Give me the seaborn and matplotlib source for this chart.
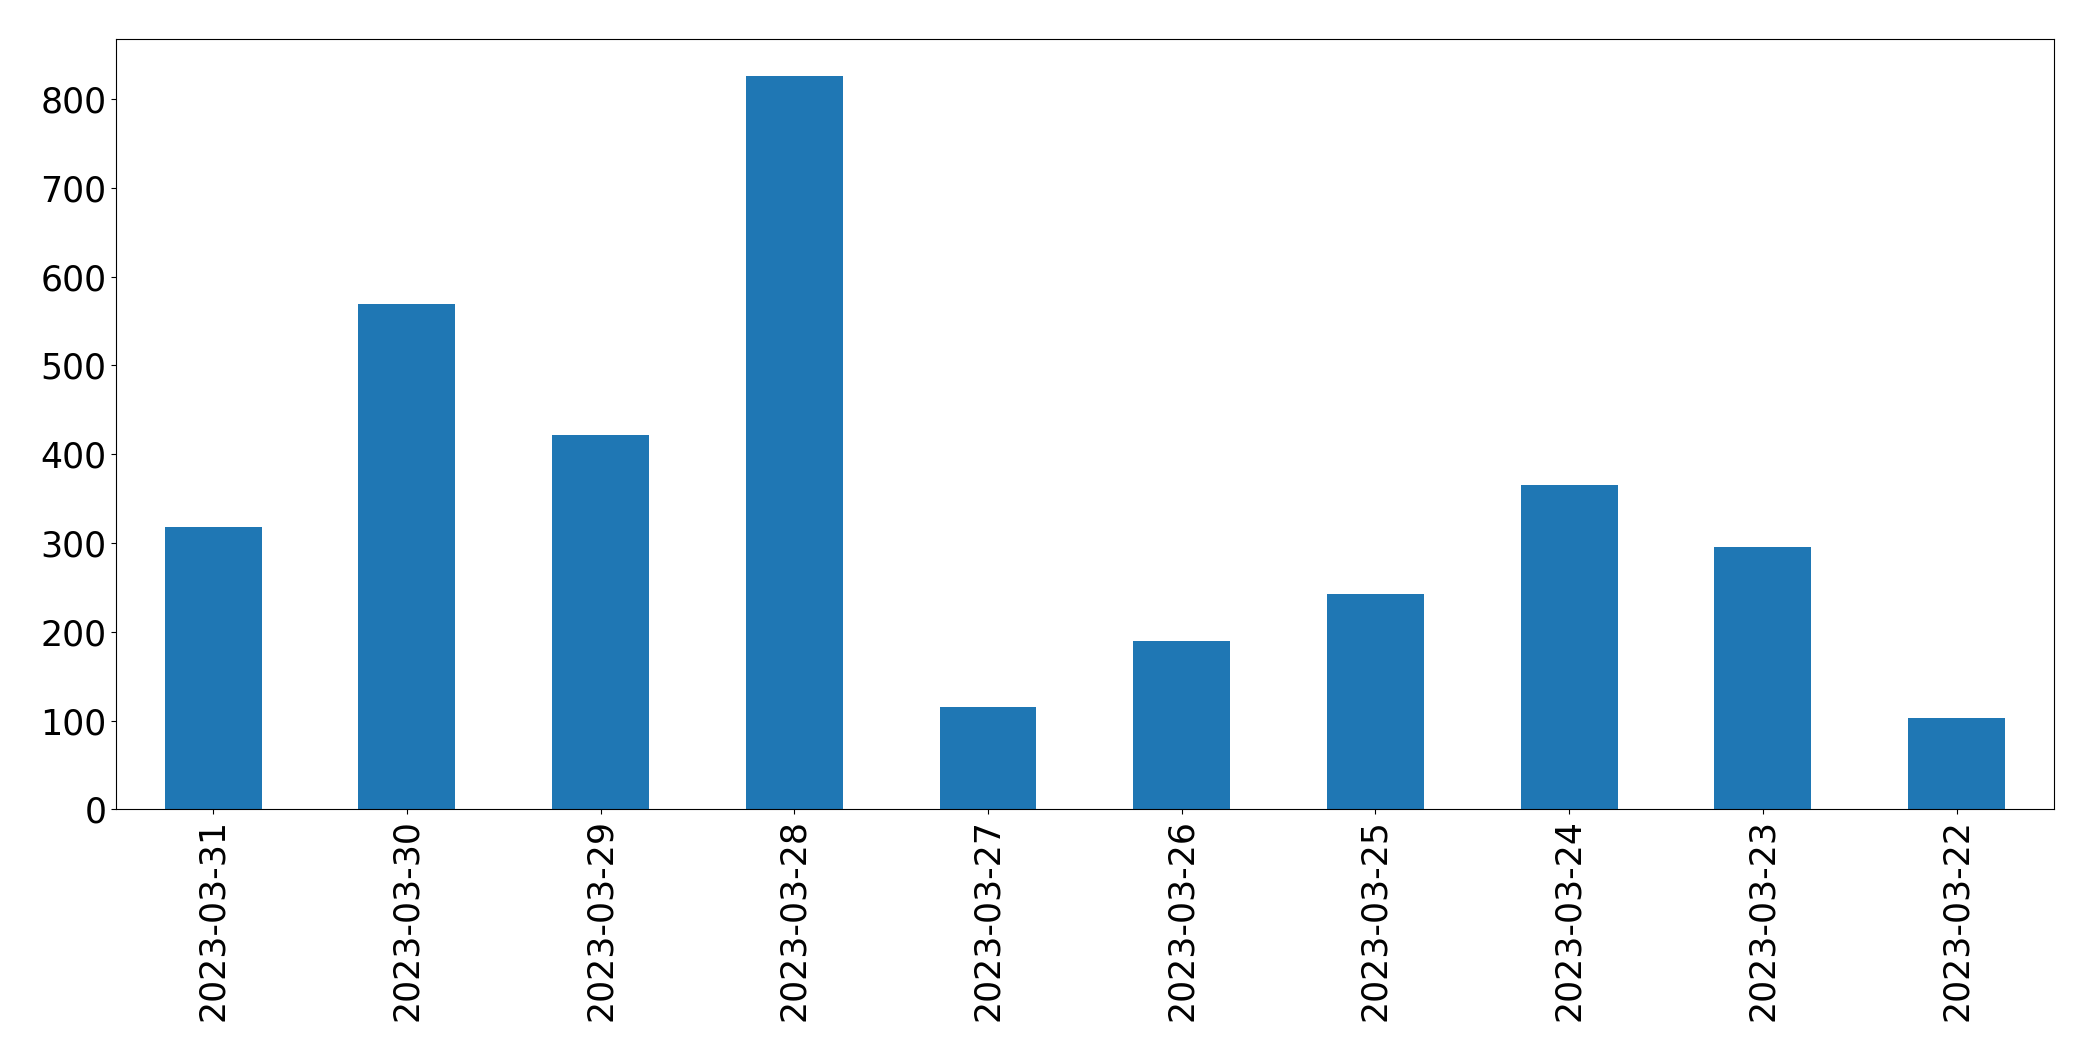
import matplotlib
matplotlib.use("Agg")
import matplotlib.pyplot as plt
import seaborn as sns
import pandas as pd

# datas (ordem decrescente, como no original)
datas = ["2023-03-31", "2023-03-30", "2023-03-29", "2023-03-28", "2023-03-27",
         "2023-03-26", "2023-03-25", "2023-03-24", "2023-03-23", "2023-03-22"]
# contagens
contagens = [318, 569, 422, 826, 115, 190, 242, 365, 296, 103]

df = pd.DataFrame({"data": datas, "contagem": contagens})

fig = plt.figure(figsize=(20.93, 10.61), dpi=100)
ax = fig.add_axes([116.3 / 2093, 1 - 809.3 / 1061,
                   (2053.5 - 116.3) / 2093, (809.3 - 39.3) / 1061])

sns.barplot(data=df, x="data", y="contagem", order=datas,
            color="#1f77b4", saturation=1, width=0.5, ax=ax)

ax.set_xlim(-0.5, len(datas) - 0.5)
ax.set_ylim(0, max(contagens) * 1.05)
ax.set_xlabel("")
ax.set_ylabel("")
for s in ax.spines.values():
    s.set_color("black")
ax.tick_params(axis="both", labelsize=25, colors="black")
ax.tick_params(axis="x", labelrotation=90)

fig.savefig("out.png", dpi=100)
